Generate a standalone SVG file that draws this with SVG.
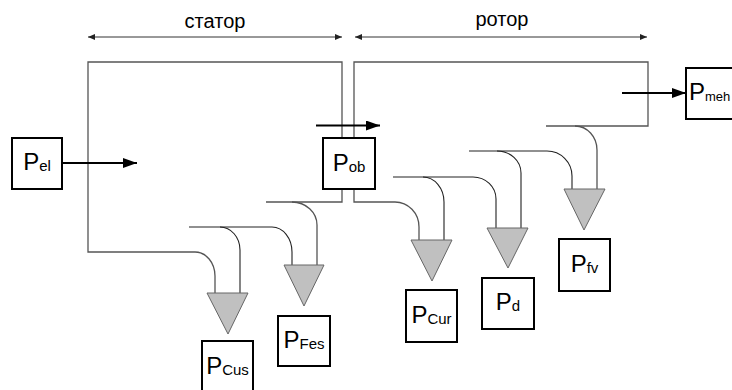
<svg xmlns="http://www.w3.org/2000/svg" width="732" height="390" viewBox="0 0 732 390">
<defs>
<marker id="arr" markerUnits="userSpaceOnUse" markerWidth="14" markerHeight="10" refX="14" refY="5" orient="auto"><path d="M0,0 L14,5 L0,10 z" fill="#000"/></marker>
<marker id="dim" markerUnits="userSpaceOnUse" markerWidth="7" markerHeight="6" refX="7" refY="3" orient="auto-start-reverse"><path d="M0,0 L7,3 L0,6 z" fill="#222"/></marker>
<style>
.outl{fill:none;stroke:#555;stroke-width:1.3}
.curve{fill:none;stroke:#222;stroke-width:1.1}
.tri{fill:#c0c0c0;stroke:#666;stroke-width:1}
.box{fill:#fff;stroke:#000;stroke-width:2}
.flow{stroke:#000;stroke-width:2.2;marker-end:url(#arr)}
.dimline{stroke:#333;stroke-width:1;marker-start:url(#dim);marker-end:url(#dim)}
.lbl{font-family:"Liberation Sans",Arial,sans-serif;font-size:24px;fill:#000}
.sub{font-size:15px}
.title{font-family:"Liberation Sans",Arial,sans-serif;font-size:20px;fill:#000;text-anchor:middle}
</style>
</defs>
<g id="dimensions">
<line class="dimline" x1="88" y1="37" x2="342" y2="37"/>
<line class="dimline" x1="355" y1="37" x2="647" y2="37"/>
<text class="title" x="215" y="28">статор</text>
<text class="title" x="502" y="26">ротор</text>
</g>
<g id="connectors">
<path class="outl" d="M215,293 V276 A20 24 0 0 0 195,252 H88 V62 H342 V202 H266"/>
<path class="outl" d="M292,202 A25 23 0 0 1 317,225 V265"/>
<path class="curve" d="M189,227 H220 A20 23 0 0 1 240,250 V293"/>
<path class="curve" d="M220,227 H272 A20 25 0 0 1 292,252 V265"/>
<path class="outl" d="M419,240 V227 A24 25 0 0 0 395,202 H354 V62 H648 V126 H546"/>
<path class="curve" d="M393,177 H423 A21 25 0 0 1 444,202 V240"/>
<path class="curve" d="M423,177 H473 A23 22 0 0 1 496,199 V228"/>
<path class="curve" d="M469,151 H497 A24 22 0 0 1 521,173 V228"/>
<path class="curve" d="M497,151 H547 A25 25 0 0 1 572,176 V189"/>
<path class="outl" d="M575,126 A22 24 0 0 1 597,150 V189"/>
<line class="flow" x1="62" y1="163" x2="137" y2="163"/>
<line class="flow" x1="316" y1="125.5" x2="380" y2="125.5"/>
<line class="flow" x1="622" y1="93" x2="686" y2="93"/>
<polygon class="tri" points="207,293 248,293 228,334"/>
<polygon class="tri" points="284,265 324,265 304,306"/>
<polygon class="tri" points="411,240 452,240 432,281"/>
<polygon class="tri" points="487,228 528,228 508,268"/>
<polygon class="tri" points="564,189 605,189 584,230"/>
</g>
<g id="Pel"><rect class="box" x="12" y="138" width="50" height="51"/><text class="lbl" x="37" y="170" text-anchor="middle">P<tspan class="sub" dy="1">el</tspan></text></g>
<g id="Pob"><rect class="box" x="323" y="138" width="52" height="51"/><text class="lbl" x="349" y="171" text-anchor="middle">P<tspan class="sub" dy="1">ob</tspan></text></g>
<g id="Pmeh"><rect class="box" x="686" y="68" width="52" height="51"/><text class="lbl" x="689" y="100">P<tspan style="font-size:13px" dy="1">meh</tspan></text></g>
<g id="Pcus"><rect class="box" x="202" y="341" width="51" height="52"/><text class="lbl" x="227.5" y="374" text-anchor="middle">P<tspan class="sub" dy="1">Cus</tspan></text></g>
<g id="Pfes"><rect class="box" x="278" y="316" width="52" height="50"/><text class="lbl" x="304" y="348" text-anchor="middle">P<tspan class="sub" dy="1">Fes</tspan></text></g>
<g id="Pcur"><rect class="box" x="406" y="290" width="51" height="52"/><text class="lbl" x="431.5" y="323" text-anchor="middle">P<tspan class="sub" dy="1">Cur</tspan></text></g>
<g id="Pd"><rect class="box" x="482" y="278" width="52" height="51"/><text class="lbl" x="508" y="310" text-anchor="middle">P<tspan class="sub" dy="1">d</tspan></text></g>
<g id="Pfv"><rect class="box" x="559" y="239" width="51" height="52"/><text class="lbl" x="584.5" y="272" text-anchor="middle">P<tspan class="sub" dy="1">fv</tspan></text></g>
</svg>
